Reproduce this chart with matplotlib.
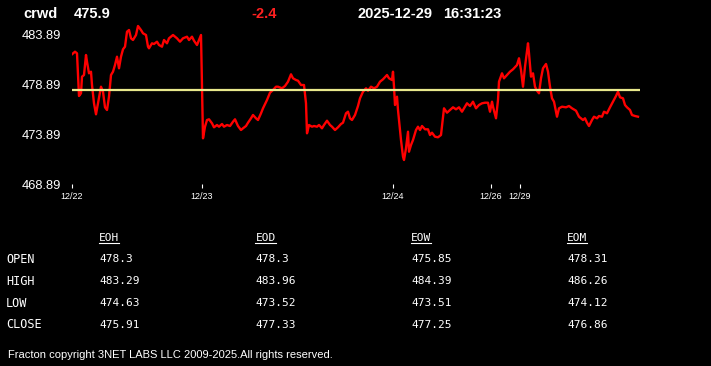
import matplotlib
matplotlib.use("Agg")
import matplotlib.pyplot as plt
from matplotlib.lines import Line2D

# header
symbol = "crwd"
last_price = "475.9"
change = "-2.4"
date_str = "2025-12-29"
time_str = "16:31:23"
prev_close = 478.3

# intraday trace (bar index, price)
bars = [0, 3, 5, 7, 9, 10, 12, 14, 15, 17, 19, 20, 22, 24, 26, 29, 31, 33, 35, 37,
        39, 41, 43, 45, 47, 49, 51, 53, 55, 57, 59, 61, 64, 66, 69, 71, 74, 76, 77, 80,
        82, 85, 87, 90, 92, 95, 97, 101, 105, 108, 111, 115, 117, 120, 122, 125, 127, 129, 130, 131,
        133, 135, 137, 140, 142, 145, 147, 150, 152, 155, 158, 161, 163, 166, 169, 171, 174, 176, 179, 181,
        184, 186, 189, 191, 195, 198, 201, 204, 206, 210, 213, 216, 219, 221, 224, 226, 229, 232, 234, 235,
        237, 240, 242, 245, 247, 250, 252, 255, 258, 260, 263, 266, 269, 271, 274, 276, 278, 280, 283, 286,
        288, 291, 294, 296, 299, 302, 305, 308, 311, 315, 317, 320, 321, 322, 323, 325, 326, 329, 331, 332,
        334, 336, 337, 339, 341, 344, 346, 348, 350, 353, 356, 358, 360, 363, 366, 369, 371, 372, 375, 378,
        381, 384, 387, 390, 393, 395, 398, 401, 404, 407, 410, 413, 416, 418, 420, 421, 424, 426, 427, 430,
        432, 435, 438, 441, 445, 447, 449, 451, 453, 456, 457, 459, 461, 463, 465, 467, 469, 471, 474, 476,
        478, 480, 482, 485, 487, 490, 494, 497, 500, 504, 507, 511, 513, 515, 517, 520, 522, 525, 527, 530,
        532, 535, 538, 541, 544, 546, 548, 551, 553, 555, 558, 560, 563, 566]
prices = [481.91, 482.17, 482.01, 477.74, 478.01, 479.67, 479.84, 481.84, 481.17, 480.01,
          480.17, 478.84, 477.01, 475.91, 477.01, 478.67, 478.17, 476.61, 476.34, 477.67,
          479.84, 480.17, 480.84, 481.67, 480.51, 481.67, 482.41, 482.67, 484.17, 484.34,
          483.51, 483.34, 483.84, 484.74, 484.34, 484.01, 483.84, 482.67, 482.51, 483.01,
          482.94, 483.17, 482.84, 482.67, 483.34, 483.01, 483.51, 483.84, 483.51, 483.17,
          483.51, 483.67, 483.34, 483.67, 483.27, 482.84, 483.34, 483.84, 478.67, 473.51,
          474.67, 475.34, 475.41, 475.01, 474.61, 474.84, 474.67, 474.94, 474.67, 474.84,
          474.74, 475.17, 475.41, 474.74, 474.34, 474.51, 474.74, 475.07, 475.51, 475.84,
          475.51, 475.34, 476.01, 476.51, 477.34, 478.07, 478.34, 478.67, 478.67, 478.51,
          478.74, 479.17, 479.91, 479.51, 479.34, 479.27, 478.84, 478.84, 477.01, 474.01,
          474.84, 474.67, 474.74, 474.67, 474.84, 474.51, 474.84, 475.27, 474.84, 474.67,
          474.34, 474.61, 474.94, 475.07, 476.01, 476.17, 475.51, 475.34, 475.84, 476.74,
          477.51, 478.17, 478.51, 478.27, 478.67, 478.51, 478.67, 479.17, 479.41, 479.84,
          479.51, 479.34, 480.17, 478.67, 476.84, 477.67, 476.34, 473.34, 471.67, 471.34,
          472.51, 474.17, 472.17, 472.84, 473.34, 474.34, 474.67, 474.34, 474.74, 474.41,
          474.41, 473.84, 474.07, 473.67, 473.61, 473.84, 475.67, 476.51, 476.07, 476.34,
          476.61, 476.41, 476.61, 476.17, 476.67, 477.01, 476.74, 477.17, 476.51, 476.84,
          477.01, 477.07, 477.07, 476.17, 477.17, 476.67, 475.51, 477.34, 479.17, 480.01,
          479.51, 479.84, 480.17, 480.41, 480.84, 481.51, 480.34, 478.67, 480.67, 483.01,
          482.01, 479.67, 480.01, 478.67, 478.27, 478.01, 479.51, 480.51, 480.94, 480.17,
          478.67, 477.51, 477.17, 475.67, 476.51, 476.67, 476.61, 476.74, 476.51, 476.27,
          475.67, 475.34, 475.51, 475.07, 474.74, 475.34, 475.67, 475.51, 475.74, 475.67,
          476.17, 476.01, 476.61, 477.17, 477.74, 478.17, 477.61, 477.51, 476.84, 476.61,
          476.34, 475.84, 475.74, 475.67]

day_ticks = [0, 130, 321, 419, 448]
day_labels = ["12/22", "12/23", "12/24", "12/26", "12/29"]
price_ticks = [468.89, 473.89, 478.89, 483.89]

# summary table
periods = ["EOH", "EOD", "EOW", "EOM"]
row_names = ["OPEN", "HIGH", "LOW", "CLOSE"]
opens = ["478.3", "478.3", "475.85", "478.31"]
highs = ["483.29", "483.96", "484.39", "486.26"]
lows = ["474.63", "473.52", "473.51", "474.12"]
closes = ["475.91", "477.33", "477.25", "476.86"]
footer = "Fracton copyright 3NET LABS LLC 2009-2025.All rights reserved."

W, H = 711, 366
fig = plt.figure(figsize=(W / 100, H / 100), dpi=100, facecolor="black")


def fx(px):
    return px / W


def fy(py):
    return 1 - py / H


ax = fig.add_axes([fx(72), fy(184.5), 570 / W, (184.5 - 20) / H])
ax.set_facecolor("black")
ax.plot(bars, prices, color="#ff0000", lw=1.7, solid_joinstyle="round")
ax.hlines(prev_close, bars[0], bars[-1] + 2, color="#e8e88c", lw=1.6)
ax.set_xlim(0, 570)
ax.set_ylim(468.89, 485.34)
for s in ax.spines.values():
    s.set_visible(False)
ax.set_yticks(price_ticks)
ax.set_yticklabels(["%.2f" % p for p in price_ticks])
ax.tick_params(axis="y", length=0, pad=7.9, labelsize=9.3, labelcolor="white")
ax.set_xticks(day_ticks)
ax.set_xticklabels(day_labels)
ax.tick_params(axis="x", length=3, width=0.8, color="white", pad=2.5,
               labelsize=6.5, labelcolor="white")
for lab in ax.get_yticklabels() + ax.get_xticklabels():
    lab.set_family("Liberation Sans")

# header line
hfont = dict(family="Liberation Sans", weight="bold", size=10.5, va="baseline")
fig.text(fx(23.5), fy(18.5), symbol, color="white", **hfont)
fig.text(fx(74), fy(18.5), last_price, color="white", **hfont)
fig.text(fx(251), fy(18.5), change, color="#ff2020", **hfont)
fig.text(fx(358), fy(18.5), date_str, color="white", **hfont)
fig.text(fx(443.5), fy(18.5), time_str, color="white", **hfont)

# table
mono = dict(family="DejaVu Sans Mono", size=8, color="white", va="baseline")
col_x = [99, 255.5, 411, 567]
label_base = [263.3, 285, 306.7, 328.3]
value_base = [262, 284, 306, 328]
headers = []
for x, name in zip(col_x, periods):
    headers.append(fig.text(fx(x), fy(241), name, **mono))
for y, name in zip(label_base, row_names):
    fig.text(fx(6), fy(y), name, family="DejaVu Sans Mono", size=8.6,
             color="white", va="baseline")
for row, y in zip([opens, highs, lows, closes], value_base):
    for x, val in zip(col_x, row):
        fig.text(fx(x), fy(y), val, **mono)

fig.canvas.draw()
r = fig.canvas.get_renderer()
for t in headers:
    bb = t.get_window_extent(r)
    fig.add_artist(Line2D([bb.x0 / W, bb.x1 / W], [fy(242.8)] * 2,
                          color="white", lw=0.8, transform=fig.transFigure))

fig.text(fx(8), fy(358), footer, family="Liberation Sans", size=8.0,
         color="white", va="baseline")

fig.savefig("out.png", dpi=100, facecolor="black")
